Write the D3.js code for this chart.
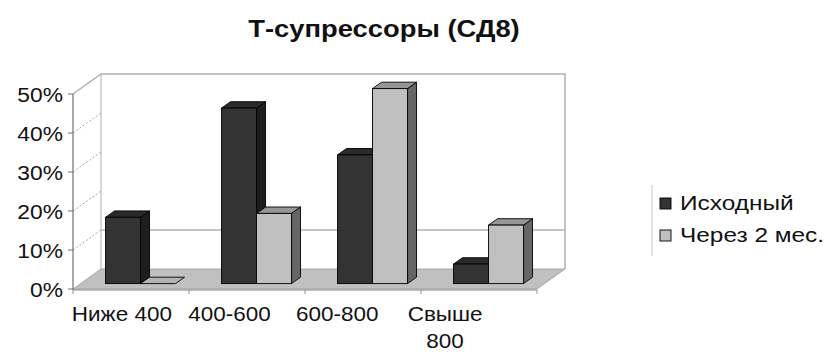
<!DOCTYPE html>
<html><head><meta charset="utf-8">
<script src="https://cdn.jsdelivr.net/npm/d3@7"></script>
<style>
body{margin:0;background:#fff}
svg{display:block}
text{font-family:"Liberation Sans",Arial,sans-serif;fill:#111}
</style></head><body>
<script>
// ---- data ----
const categories = [["Ниже 400"], ["400-600"], ["600-800"], ["Свыше", "800"]];
const seriesNames = ["Исходный", "Через 2 мес."];
const initialValues = [17, 45, 33, 5];
const after2Values = [0, 18, 50, 15];
const yTicks = [0, 10, 20, 30, 40, 50];
const titleText = "Т-супрессоры (СД8)";

// ---- layout ----
const W = 834, H = 352;
const svg = d3.select("body").append("svg").attr("width", W).attr("height", H);

const DX = 28, DY = -20;          // full floor depth projection
const D0 = 0.27, D1 = 0.59;        // bar depth range
const idx = d3.range(categories.length);
const x = d3.scaleBand().domain(idx).range([73, 537]);
const xLab = d3.scaleBand().domain(idx).range([68, 499]);
const y = d3.scaleLinear().domain([0, 50]).range([289, 94]);
const series = [initialValues, after2Values];
const colors = [
  {front: "#333333", top: "#2a2a2a", side: "#1e1e1e"},
  {front: "#c0c0c0", top: "#969696", side: "#666666"}
];
const barW = 35;

function stretch(sel, f) {
  sel.each(function () {
    const n = this.getComputedTextLength();
    d3.select(this).attr("textLength", n * f).attr("lengthAdjust", "spacingAndGlyphs");
  });
}

// title
const t = svg.append("text").attr("x", 384).attr("y", 37).attr("text-anchor", "middle")
  .style("font-size", "24px").style("font-weight", "bold").text(titleText);
stretch(t, 1.14);

const x0 = x.range()[0], x1 = x.range()[1];
const y0 = y(0), yTop = y(50);

// side wall
svg.append("polygon")
  .attr("points", [[x0, y0], [x0 + DX, y0 + DY], [x0 + DX, yTop + DY], [x0, yTop]].join(" "))
  .attr("fill", "#fff");
// back wall
svg.append("rect").attr("x", x0 + DX).attr("y", yTop + DY).attr("width", x1 - x0).attr("height", y0 - yTop)
  .attr("fill", "#fff");

// side wall dashed gridlines
svg.append("g").selectAll("line").data(yTicks.filter(v => v > 0 && v < 50)).join("line")
  .attr("x1", x0).attr("y1", d => y(d)).attr("x2", x0 + DX).attr("y2", d => y(d) + DY)
  .attr("stroke", "#a8a8a8").attr("stroke-dasharray", "2,2");
// back wall gridline (only the visible one)
svg.append("g").selectAll("line").data([10]).join("line")
  .attr("x1", x0 + DX).attr("x2", x1 + DX).attr("y1", d => y(d) + DY).attr("y2", d => y(d) + DY)
  .attr("stroke", "#8c8c8c");
// wall edges
svg.append("path")
  .attr("d", `M${x0},${yTop}L${x0 + DX},${yTop + DY}L${x1 + DX},${yTop + DY}L${x1 + DX},${y0 + DY}`)
  .attr("fill", "none").attr("stroke", "#b0b0b0").attr("stroke-width", 1.5);
svg.append("line").attr("x1", x0 + DX).attr("x2", x0 + DX).attr("y1", yTop + DY).attr("y2", y0 + DY)
  .attr("stroke", "#b0b0b0");

// floor
svg.append("polygon")
  .attr("points", [[x0, y0], [x1, y0], [x1 + DX, y0 + DY], [x0 + DX, y0 + DY]].join(" "))
  .attr("fill", "#c0c0c0").attr("stroke", "#9a9a9a").attr("stroke-width", 0.8);

// y axis line + ticks
svg.append("line").attr("x1", x0).attr("x2", x0).attr("y1", yTop).attr("y2", y0 + 1)
  .attr("stroke", "#707070").attr("stroke-width", 1.2);
svg.append("line").attr("x1", x0).attr("x2", x1).attr("y1", y0 + 1).attr("y2", y0 + 1)
  .attr("stroke", "#808080").attr("stroke-width", 1.2);
svg.append("g").selectAll("line").data(yTicks).join("line")
  .attr("x1", x0 - 5).attr("x2", x0).attr("y1", d => y(d)).attr("y2", d => y(d))
  .attr("stroke", "#707070");
svg.append("g").selectAll("line").data(d3.range(categories.length + 1)).join("line")
  .attr("x1", d => x0 + d * x.bandwidth()).attr("x2", d => x0 + d * x.bandwidth())
  .attr("y1", y0 + 1).attr("y2", y0 + 5).attr("stroke", "#909090");

// y labels
const yl = svg.append("g").selectAll("text").data(yTicks).join("text")
  .attr("x", 63).attr("y", d => y(d) + 8).attr("text-anchor", "end")
  .style("font-size", "20px").text(d => d + "%");
stretch(yl, 1.14);

// bars
function drawBar(g, xl, xr, v, c) {
  const ddx = (D1 - D0) * DX, ddy = (D1 - D0) * DY;
  const xf0 = xl + D0 * DX, xf1 = xr + D0 * DX;
  const yb = y(0) + D0 * DY, yt = y(v) + D0 * DY;
  if (v > 0) {
    g.append("polygon").attr("points", [[xf1, yt], [xf1 + ddx, yt + ddy], [xf1 + ddx, yb + ddy], [xf1, yb]].join(" "))
      .attr("fill", c.side).attr("stroke", "#000").attr("stroke-width", 0.9).attr("stroke-linejoin", "round");
  }
  g.append("polygon").attr("points", [[xf0, yt], [xf1, yt], [xf1 + ddx, yt + ddy], [xf0 + ddx, yt + ddy]].join(" "))
    .attr("fill", v > 0 ? c.top : "#b4b4b4").attr("stroke", "#000").attr("stroke-width", 0.9).attr("stroke-linejoin", "round");
  if (v > 0) {
    g.append("rect").attr("x", xf0).attr("y", yt).attr("width", xf1 - xf0).attr("height", yb - yt)
      .attr("fill", c.front).attr("stroke", "#000").attr("stroke-width", 0.9);
  }
}
const bars = svg.append("g");
idx.forEach(i => {
  const cx = x(i) + x.bandwidth() / 2 + 2;
  series.forEach((s, k) => {
    const xl = cx + (k - 1) * barW;
    drawBar(bars, xl, xl + barW, s[i], colors[k]);
  });
});

// x labels
const xl = svg.append("g").selectAll("text").data(idx).join("text")
  .attr("x", i => xLab(i) + xLab.bandwidth() / 2).attr("y", 321)
  .attr("text-anchor", "middle").style("font-size", "21px");
xl.selectAll("tspan").data(i => categories[i]).join("tspan")
  .attr("x", function () { return d3.select(this.parentNode).attr("x"); })
  .attr("dy", (d, j) => j === 0 ? 0 : 27).text(d => d);
xl.selectAll("tspan").each(function () {
  const n = this.getComputedTextLength();
  d3.select(this).attr("textLength", n * 1.07).attr("lengthAdjust", "spacingAndGlyphs");
});

// legend
const lg = svg.append("g");
lg.append("line").attr("x1", 652).attr("x2", 652).attr("y1", 185).attr("y2", 256).attr("stroke", "#c8c8c8");
seriesNames.forEach((n, k) => {
  const yy = 198 + k * 32;
  lg.append("rect").attr("x", 660).attr("y", yy).attr("width", 11).attr("height", 11)
    .attr("fill", colors[k].front).attr("stroke", "#000").attr("stroke-width", 0.9);
  const tt = lg.append("text").attr("x", 680).attr("y", yy + 12).style("font-size", "20px").text(n);
  stretch(tt, 1.22);
});
</script></body></html>
